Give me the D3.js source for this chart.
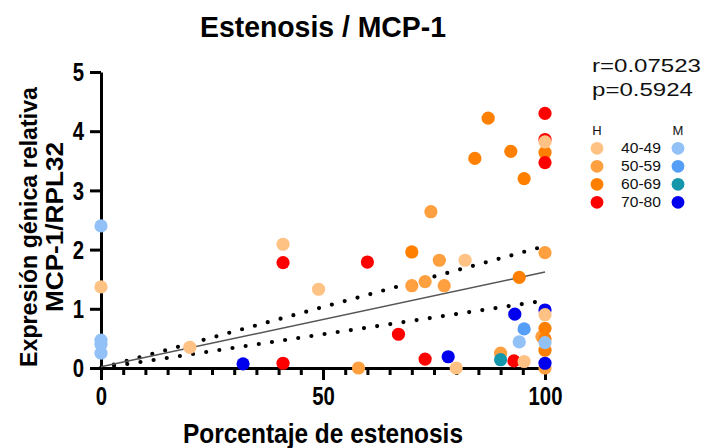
<!DOCTYPE html>
<html>
<head>
<meta charset="utf-8">
<script src="https://cdn.jsdelivr.net/npm/d3@7"></script>
<style>
  body { margin: 0; background: #fff; }
  svg { display: block; }
  .bold { font-family: "Liberation Sans Narrow", "Liberation Sans", Arial, sans-serif; font-weight: bold; fill: #000; }
  .reg { font-family: "Liberation Sans", Arial, sans-serif; fill: #111; }
</style>
</head>
<body>
<svg id="chart" width="705" height="448"></svg>
<script>
// Axis ticks
const xTickValues = [0, 50, 100];
const xMinorTickValues = d3.range(0, 101, 5);
const yTickValues = [0, 1, 2, 3, 4, 5];

// Age groups and sexes for the legend
const ageGroups = ["40-49", "50-59", "60-69", "70-80"];
const sexLabels = ["H", "M"];

// [% estenosis, expresión MCP-1/RPL32] — hombres
const h4049 = [[0, 1.37], [20, 0.35], [41, 2.09], [49, 1.33], [80, 0], [82, 1.82], [95.3, 0.11], [100, 3.82], [100, 0.90]];
const h5059 = [[58, 0], [70, 1.39], [73, 1.46], [74.3, 2.64], [76.2, 1.82], [77.3, 1.39], [90, 0.25], [99.3, 0.53], [100, 1.95], [100, 0]];
const h6069 = [[70, 1.96], [84.2, 3.54], [87.2, 4.22], [92.3, 3.66], [95.3, 3.20], [94.2, 1.53], [100, 3.64], [100, 0.67], [100, 0.49], [100, 0.30]];
const h7080 = [[41, 1.78], [41, 0.08], [60, 1.79], [67, 0.57], [73, 0.15], [93, 0.12], [100, 4.30], [100, 3.86], [100, 3.47]];

// mujeres
const m4049 = [[0, 2.40], [0, 0.47], [0, 0.40], [0, 0.25], [94.2, 0.44], [100, 0.43]];
const m5059 = [[95.3, 0.66]];
const m6069 = [[90, 0.14]];
const m7080 = [[32, 0.07], [78.2, 0.19], [93.2, 0.91], [100, 0.98], [100, 0.08]];

// Regression line and 95% confidence band
const fitLine = [[0, 0.02], [100, 1.62]];
const bandUpper = [[0, 0], [100, 2.06]];
const bandLower = [[0, 0], [100, 1.14]];

const statLabels = ["r=0.07523", "p=0.5924"];

const hColors = ["#FFC285", "#FFA040", "#FF8000", "#FF0000"];
const mColors = ["#92C1F7", "#559EF7", "#1597AB", "#0000EE"];

const svg = d3.select("#chart");
const x = d3.scaleLinear().domain([0, 100]).range([101, 545]);
const y = d3.scaleLinear().domain([0, 5]).range([368, 72]);

// Title
svg.append("text").attr("class", "bold")
  .attr("x", 323).attr("y", 37).attr("text-anchor", "middle")
  .attr("font-size", 30).attr("textLength", 246).attr("lengthAdjust", "spacingAndGlyphs")
  .text("Estenosis / MCP-1");

// Axis titles
svg.append("text").attr("class", "bold")
  .attr("x", 323).attr("y", 443).attr("text-anchor", "middle")
  .attr("font-size", 28).attr("textLength", 280).attr("lengthAdjust", "spacingAndGlyphs")
  .text("Porcentaje de estenosis");

const yTitle = svg.append("g").attr("transform", "translate(0,227) rotate(-90)");
yTitle.append("text").attr("class", "bold")
  .attr("x", 0).attr("y", 37).attr("text-anchor", "middle")
  .attr("font-size", 24).attr("textLength", 280).attr("lengthAdjust", "spacingAndGlyphs")
  .text("Expresión génica relativa");
yTitle.append("text").attr("class", "bold")
  .attr("x", 0).attr("y", 63).attr("text-anchor", "middle")
  .attr("font-size", 24).attr("textLength", 170).attr("lengthAdjust", "spacingAndGlyphs")
  .text("MCP-1/RPL32");

// Axes
const xMinor = svg.append("g").attr("transform", `translate(0,${y(0)})`)
  .call(d3.axisBottom(x).tickValues(xMinorTickValues).tickSize(7).tickSizeOuter(0).tickFormat(""));
const xMajor = svg.append("g").attr("transform", `translate(0,${y(0)})`)
  .call(d3.axisBottom(x).tickValues(xTickValues).tickSize(12).tickSizeOuter(0).tickPadding(7)
    .tickFormat(d3.format("d")));
const yAxis = svg.append("g").attr("transform", `translate(${x(0)},0)`)
  .call(d3.axisLeft(y).tickValues(yTickValues).tickSize(11).tickSizeOuter(0).tickPadding(6)
    .tickFormat(d3.format("d")));

[xMinor, xMajor, yAxis].forEach(g => {
  g.selectAll("path.domain").attr("stroke", "#000").attr("stroke-width", 3);
  g.selectAll(".tick line").attr("stroke", "#000").attr("stroke-width", 3);
});
xMajor.selectAll(".tick text").attr("class", "bold")
  .attr("font-size", 25).attr("fill", "#000")
  .attr("textLength", d => String(d).length * 11.3).attr("lengthAdjust", "spacingAndGlyphs");
yAxis.selectAll(".tick text").attr("class", "bold")
  .attr("font-size", 25).attr("fill", "#000").attr("dy", "0.35em")
  .attr("textLength", d => String(d).length * 11.3).attr("lengthAdjust", "spacingAndGlyphs");

// Confidence band (dotted) and fit line
const line = d3.line().x(d => x(d[0])).y(d => y(d[1]));
[bandUpper, bandLower].forEach(b => {
  svg.append("path").attr("d", line(b)).attr("fill", "none")
    .attr("stroke", "#000").attr("stroke-width", 4.2)
    .attr("stroke-linecap", "round").attr("stroke-dasharray", "0 13.3");
});
svg.append("path").attr("d", line(fitLine)).attr("fill", "none")
  .attr("stroke", "#555").attr("stroke-width", 1.5);

// Points, layered so the overlaps read the same way
const layers = [
  [h5059, hColors[1]], [h6069, hColors[2]], [h7080, hColors[3]],
  [m7080, mColors[3]], [h4049, hColors[0]], [m4049, mColors[0]],
  [m5059, mColors[1]], [m6069, mColors[2]]
];
layers.forEach(([data, color]) => {
  svg.append("g").selectAll("circle").data(data).join("circle")
    .attr("cx", d => x(d[0])).attr("cy", d => y(d[1]))
    .attr("r", 6.6).attr("fill", color);
});

// Statistics
statLabels.forEach((s, i) => {
  svg.append("text").attr("class", "reg")
    .attr("x", 592).attr("y", 72 + i * 24).attr("font-size", 19)
    .attr("textLength", i === 0 ? 109 : 101).attr("lengthAdjust", "spacingAndGlyphs")
    .text(s);
});

// Legend
const legend = svg.append("g");
sexLabels.forEach((s, i) => {
  legend.append("text").attr("class", "reg")
    .attr("x", i === 0 ? 597 : 678).attr("y", 135).attr("text-anchor", "middle")
    .attr("font-size", 13).attr("fill", "#444").text(s);
});
ageGroups.forEach((g, i) => {
  const cy = 148.3 + i * 18;
  legend.append("circle").attr("cx", 597).attr("cy", cy).attr("r", 6.4).attr("fill", hColors[i]);
  legend.append("circle").attr("cx", 678).attr("cy", cy).attr("r", 6.4).attr("fill", mColors[i]);
  legend.append("text").attr("class", "reg")
    .attr("x", 621).attr("y", cy + 5).attr("font-size", 14).attr("fill", "#222")
    .attr("textLength", 40).attr("lengthAdjust", "spacingAndGlyphs")
    .text(g);
});
</script>
</body>
</html>
